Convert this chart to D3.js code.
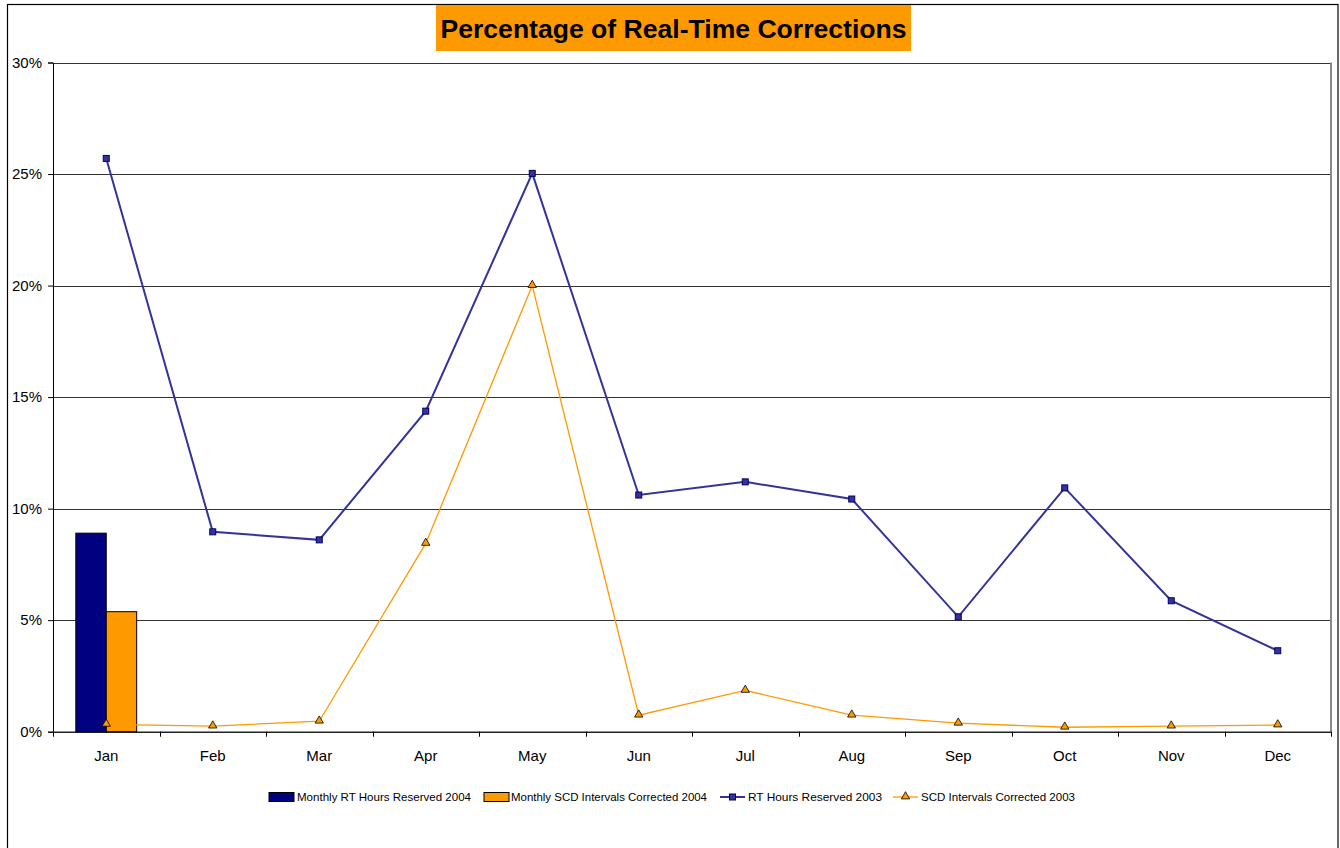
<!DOCTYPE html>
<html><head><meta charset="utf-8">
<script src="https://cdn.jsdelivr.net/npm/d3@7"></script>
<style>
html,body{margin:0;padding:0;background:#fff;}
svg{display:block;font-family:Arial,"Liberation Sans",sans-serif;}
</style></head>
<body>
<svg id="chart" width="1340" height="848"></svg>
<script>
const months = ["Jan","Feb","Mar","Apr","May","Jun","Jul","Aug","Sep","Oct","Nov","Dec"];
const rtHours2004 = [8.9, null, null, null, null, null, null, null, null, null, null, null];
const scd2004 = [5.38, null, null, null, null, null, null, null, null, null, null, null];
const rtHours2003 = [25.7, 8.96, 8.6, 14.37, 25.03, 10.61, 11.2, 10.43, 5.15, 10.93, 5.87, 3.63];
const scd2003 = [0.33, 0.25, 0.47, 8.44, 20.0, 0.74, 1.85, 0.74, 0.38, 0.2, 0.25, 0.3];
const yTicks = [0, 5, 10, 15, 20, 25, 30];
const legendLabels = ["Monthly RT Hours Reserved 2004","Monthly SCD Intervals Corrected 2004","RT Hours Reserved 2003","SCD Intervals Corrected 2003"];
const title = "Percentage of Real-Time Corrections";

const svg = d3.select("#chart");
const L = 53, R = 1331, T = 62.5, B = 731.7;

// outer border
svg.append("rect").attr("x",7.5).attr("y",4.5).attr("width",1330.5).attr("height",900)
  .attr("fill","#fff").attr("stroke","#000").attr("stroke-width",1.2);

const x = d3.scaleBand().domain(months).range([L,R]).padding(0);
const y = d3.scaleLinear().domain([0,30]).range([B,T]);
const xi = d3.scaleBand().domain(["a","b"]).range([0,x.bandwidth()]).paddingInner(0).paddingOuter(0.75);

// gridlines
svg.append("g").selectAll("line").data(yTicks.filter(d=>d>0)).join("line")
  .attr("x1",L).attr("x2",R).attr("y1",d=>Math.round(y(d))+0.5).attr("y2",d=>Math.round(y(d))+0.5)
  .attr("stroke","#333").attr("stroke-width",1);

// plot right border (gray)
svg.append("line").attr("x1",R).attr("x2",R).attr("y1",T).attr("y2",B)
  .attr("stroke","#888").attr("stroke-width",2);

// y axis
const yAxis = d3.axisLeft(y).tickValues(yTicks).tickFormat(d=>d+"%").tickSize(5).tickPadding(6);
const gy = svg.append("g").attr("transform",`translate(${L},0)`).call(yAxis);
gy.select(".domain").attr("stroke","#000");
gy.selectAll(".tick line").attr("stroke","#000");
gy.selectAll(".tick text").attr("font-size",15).attr("fill","#000")
  .attr("font-family","Arial,'Liberation Sans',sans-serif");

// x axis
const xAxis = d3.axisBottom(x).tickSize(0).tickPadding(19);
const gx = svg.append("g").attr("transform",`translate(0,${B})`).call(xAxis);
gx.select(".domain").attr("stroke","#222").attr("stroke-width",1.5);
gx.selectAll(".tick text").attr("font-size",15).attr("fill","#000")
  .attr("font-family","Arial,'Liberation Sans',sans-serif");
// category boundary ticks
const bounds = months.map(m=>x(m)).concat([R]);
gx.append("g").selectAll("line").data(bounds).join("line")
  .attr("x1",d=>Math.round(d)+0.5).attr("x2",d=>Math.round(d)+0.5).attr("y1",0).attr("y2",5)
  .attr("stroke","#000");

// bars
const barData = [];
months.forEach((m,i)=>{
  if(rtHours2004[i]!=null) barData.push({m, k:"a", v:rtHours2004[i], c:"#000080"});
  if(scd2004[i]!=null) barData.push({m, k:"b", v:scd2004[i], c:"#FF9900"});
});
svg.append("g").selectAll("rect").data(barData).join("rect")
  .attr("x",d=>x(d.m)+xi(d.k)).attr("width",xi.bandwidth())
  .attr("y",d=>y(d.v)).attr("height",d=>B-y(d.v))
  .attr("fill",d=>d.c).attr("stroke","#000").attr("stroke-width",1);

const cx = m => x(m)+x.bandwidth()/2;
const line = d3.line().defined(d=>d.v!=null).x(d=>cx(d.m)).y(d=>y(d.v));

// orange line
const scdData = months.map((m,i)=>({m,v:scd2003[i]}));
svg.append("path").datum(scdData).attr("d",line).attr("fill","none")
  .attr("stroke","#FF9900").attr("stroke-width",1.3);
// blue line
const rtData = months.map((m,i)=>({m,v:rtHours2003[i]}));
svg.append("path").datum(rtData).attr("d",line).attr("fill","none")
  .attr("stroke","#333399").attr("stroke-width",2);

const tri = d3.symbol().type(d3.symbolTriangle).size(30);
svg.append("g").selectAll("path").data(scdData).join("path")
  .attr("d",tri).attr("transform",d=>`translate(${cx(d.m)},${y(d.v)-0.5})`)
  .attr("fill","#FF9900").attr("stroke","#000").attr("stroke-width",0.8);
svg.append("g").selectAll("rect").data(rtData).join("rect")
  .attr("x",d=>cx(d.m)-3).attr("y",d=>y(d.v)-3).attr("width",6).attr("height",6)
  .attr("fill","#333399").attr("stroke","#000066").attr("stroke-width",1);

// title
const tg = svg.append("g");
tg.append("rect").attr("x",436).attr("y",5).attr("width",475).attr("height",46).attr("fill","#FF9900");
tg.append("text").attr("x",673.5).attr("y",37.5).attr("text-anchor","middle")
  .attr("font-size",26).attr("font-weight","bold").attr("fill","#000")
  .attr("textLength",466).attr("lengthAdjust","spacingAndGlyphs").text(title);

// legend
const lg = svg.append("g").attr("font-size",11).attr("fill","#000");
const items = [
  {type:"bar", c:"#000080", sx:269, tx:297, tw:174},
  {type:"bar", c:"#FF9900", sx:484, tx:511, tw:196},
  {type:"line", c:"#333399", sx:720, tx:748, tw:134, mk:"sq"},
  {type:"line", c:"#FF9900", sx:893, tx:921, tw:154, mk:"tri"}
];
const ly = 797;
items.forEach((it,i)=>{
  if(it.type==="bar"){
    lg.append("rect").attr("x",it.sx).attr("y",ly-4.5).attr("width",25).attr("height",9)
      .attr("fill",it.c).attr("stroke","#000").attr("stroke-width",1);
  } else {
    lg.append("line").attr("x1",it.sx).attr("x2",it.sx+25).attr("y1",ly).attr("y2",ly)
      .attr("stroke",it.c).attr("stroke-width",it.mk==="sq"?2:1.3);
    if(it.mk==="sq"){
      lg.append("rect").attr("x",it.sx+12.5-3).attr("y",ly-3).attr("width",6).attr("height",6)
        .attr("fill","#333399").attr("stroke","#000066");
    } else {
      lg.append("path").attr("d",tri).attr("transform",`translate(${it.sx+12.5},${ly-0.5})`)
        .attr("fill","#FF9900").attr("stroke","#000").attr("stroke-width",0.8);
    }
  }
  lg.append("text").attr("x",it.tx).attr("y",ly+4).attr("textLength",it.tw)
    .attr("lengthAdjust","spacingAndGlyphs").text(legendLabels[i]);
});
</script>
</body></html>
